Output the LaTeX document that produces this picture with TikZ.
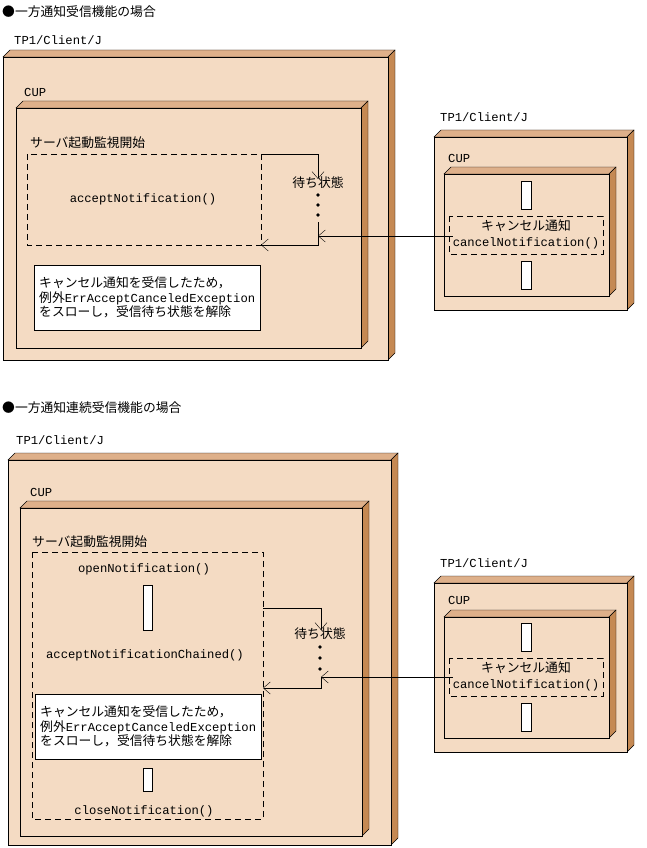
\documentclass[tikz,border=0pt]{standalone}
\usepackage{fontspec}
\setmainfont{Liberation Mono}
\newfontfamily\cjk{Noto Sans CJK JP}
\usetikzlibrary{arrows.meta}
\definecolor{frontc}{HTML}{F4DBC3}
\definecolor{topc}{HTML}{DEB08A}
\definecolor{sidec}{HTML}{C58953}
\newcommand{\jp}[1]{{\cjk\fontsize{12.8}{14}\selectfont #1}}
% name, x1, y1, x2, y2
\newcommand{\cubebox}[5]{%
  \draw[fill=topc] (#2,#3) -- (#2+7,#3-7) -- (#4+7,#3-7) -- (#4,#3) -- cycle;
  \draw[fill=sidec] (#4,#3) -- (#4+7,#3-7) -- (#4+7,#5-7) -- (#4,#5) -- cycle;
  \draw[fill=frontc] (#2,#3) rectangle (#4,#5);
  \coordinate (#1-nw) at (#2,#3);
  \coordinate (#1-se) at (#4,#5);
}
\begin{document}
\begin{tikzpicture}[x=1pt,y=-1pt,
  txt/.style={inner sep=0pt,font=\fontsize{12.2}{14.5}\selectfont},
  lbl/.style={txt,anchor=west},
  dashbox/.style={dash pattern=on 6pt off 4pt},
  bar/.style={draw,fill=white},
  flow/.style={-{Straight Barb[length=7pt,width=12pt]}},
  dot/.style={circle,fill,inner sep=1.3pt}]
\useasboundingbox (0,0) rectangle (646,848);

%%% upper case
\node[lbl] (title1) at (2,12) {\jp{●一方通知受信機能の場合}};
\node[lbl] (tp1) at (14,40) {TP1/Client/J};
\cubebox{outerA}{3}{57}{388}{360}
\node[lbl] (cup1) at (24,92) {CUP};
\cubebox{cupA}{16}{108}{361}{348}
\node[lbl] (mon1) at (30,143) {\jp{サーバ起動監視開始}};
\draw[dashbox] (27,154) coordinate (monA-nw) rectangle (261,245) coordinate (monA-se);
\coordinate (monA-ne) at (261,154);
\node[txt] (acc1) at (143,199) {acceptNotification()};
\node[txt] (wait1) at (318,183) {\jp{待ち状態}};
\node[dot] (d1a) at (318,195) {};
\node[dot] (d1b) at (318,205) {};
\node[dot] (d1c) at (318,215) {};
\coordinate (in1) at (318,236);
\draw[flow] (monA-ne) -| ([yshift=-2pt]wait1.north);
\draw[flow] (318,222) -- (318,245) -- (261,245);
\node[draw,fill=white,align=left,anchor=north west,minimum width=226pt,minimum height=65pt,
  inner sep=4pt,txt,inner xsep=5pt] (note1) at (34,265)
  {\jp{キャンセル通知を受信したため，}\\\jp{例外}ErrAcceptCanceledException\\\jp{をスローし，受信待ち状態を解除}};
% right side
\node[lbl] (tp2) at (440,117) {TP1/Client/J};
\cubebox{outerB}{434}{137}{627}{310}
\node[lbl] (cup2) at (448,158) {CUP};
\cubebox{cupB}{444}{174}{609}{296}
\draw[bar] (521,181) rectangle (531,209);
\draw[bar] (521,261) rectangle (531,289);
\draw[dashbox] (449,216) rectangle (603,254);
\node[txt] (can1) at (526,226) {\jp{キャンセル通知}};
\node[txt] (cn1) at (526,243) {cancelNotification()};
\draw[flow] (cn1.west |- in1) -- (in1);

%%% lower case
\node[lbl] (title2) at (2,408) {\jp{●一方通知連続受信機能の場合}};
\node[lbl] (tp3) at (16,440) {TP1/Client/J};
\cubebox{outerC}{8}{460}{391}{845}
\node[lbl] (cup3) at (30,492) {CUP};
\cubebox{cupC}{20}{508}{362}{836}
\node[lbl] (mon2) at (32,542) {\jp{サーバ起動監視開始}};
\draw[dashbox] (32,552) rectangle (263,819);
\coordinate (monC-e) at (263,608);
\node[txt] (open2) at (144,569) {openNotification()};
\draw[bar] (143,585) rectangle (152,630);
\node[txt] (acc2) at (145,655) {acceptNotificationChained()};
\node[draw,fill=white,align=left,anchor=north west,minimum width=224pt,minimum height=65pt,
  inner sep=4pt,txt,inner xsep=5pt] (note2) at (35,694)
  {\jp{キャンセル通知を受信したため，}\\\jp{例外}ErrAcceptCanceledException\\\jp{をスローし，受信待ち状態を解除}};
\draw[bar] (143,768) rectangle (152,791);
\node[txt] (close2) at (144,811) {closeNotification()};
\node[txt] (wait2) at (320,634) {\jp{待ち状態}};
\node[dot] (d2a) at (320,647) {};
\node[dot] (d2b) at (320,658) {};
\node[dot] (d2c) at (320,669) {};
\coordinate (in2) at (321,677);
\draw[flow] (monC-e) -| ([xshift=1pt,yshift=-2pt]wait2.north);
\draw[flow] (321,677) -- (321,688) -- (263,688);
% right side
\node[lbl] (tp4) at (440,563) {TP1/Client/J};
\cubebox{outerD}{434}{583}{627}{752}
\node[lbl] (cup4) at (448,600) {CUP};
\cubebox{cupD}{444}{617}{609}{738}
\draw[bar] (521,623) rectangle (531,651);
\draw[bar] (521,703) rectangle (531,731);
\draw[dashbox] (449,658) rectangle (603,696);
\node[txt] (can2) at (526,668) {\jp{キャンセル通知}};
\node[txt] (cn2) at (526,685) {cancelNotification()};
\draw[flow] (cn2.west |- in2) -- (in2);
\end{tikzpicture}
\end{document}
